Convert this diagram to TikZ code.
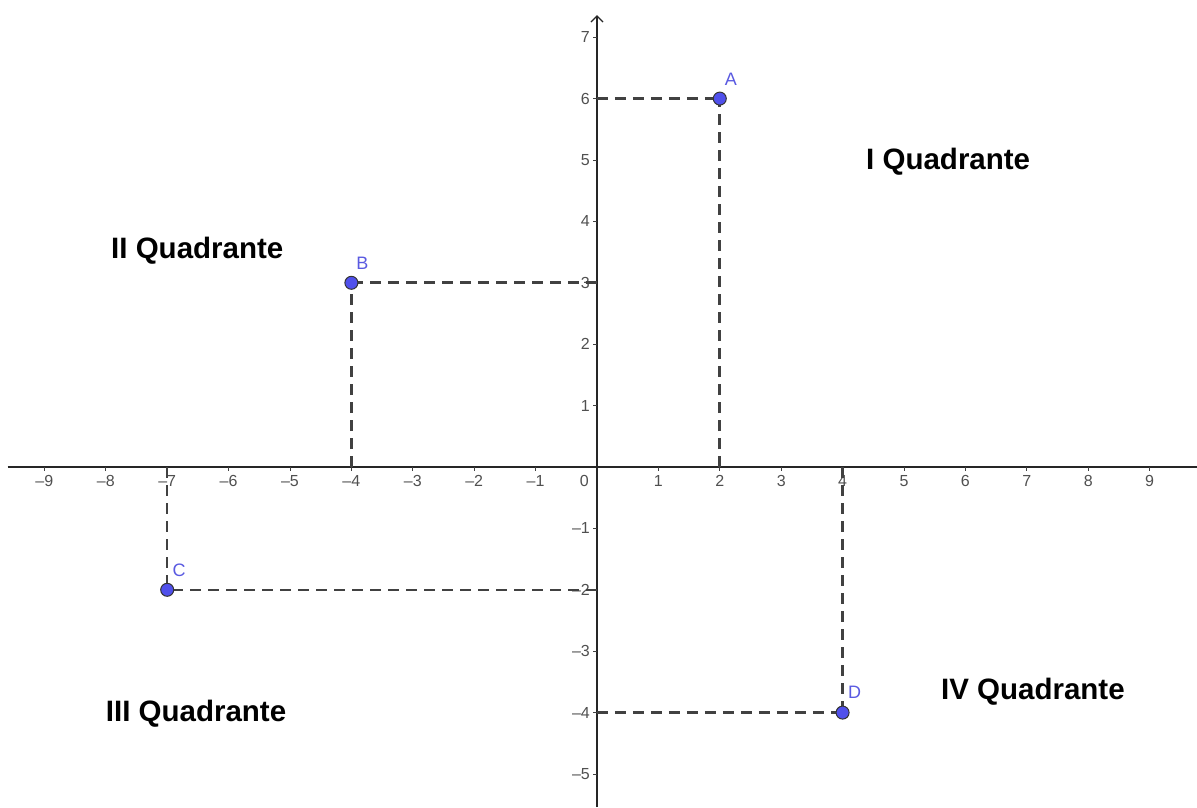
\documentclass[tikz,border=0pt]{standalone}
\usepackage{fontspec}
\setmainfont{Liberation Sans}
\usetikzlibrary{arrows.meta}
\definecolor{ticklbl}{RGB}{80,80,80}
\definecolor{ptfill}{RGB}{80,80,235}
\definecolor{ptlbl}{RGB}{90,90,225}
\definecolor{dashc}{RGB}{65,65,65}
\tikzset{
  axis/.style={line width=1.6pt, draw=black!85},
  tck/.style={line width=0.9pt, draw=black!75},
  ticklabel/.style={text=ticklbl, font=\fontsize{16}{16}\selectfont, inner sep=0pt},
  guide/.style={dashc, line width=2.6pt, dash pattern=on 11pt off 7pt},
  pt/.style={circle, fill=ptfill, draw=black!80, line width=1pt, minimum size=13pt, inner sep=0pt},
  ptlabel/.style={text=ptlbl, font=\fontsize{18}{18}\selectfont, inner sep=0pt},
  quad/.style={font=\bfseries\fontsize{29.5}{29.5}\selectfont, inner sep=0pt}
}
\begin{document}
\begin{tikzpicture}[x=61.4pt,y=61.4pt]
\useasboundingbox (-9.7231,-5.5375) rectangle (9.7720,7.6059);
\fill[white] (-9.7231,-5.5375) rectangle (9.7720,7.6059);
% axes
\coordinate (xl) at (-9.6,0);
\coordinate (xr) at (9.7720,0);
\coordinate (yb) at (0,-5.5375);
\coordinate (yt) at (0,7.36);
\draw[axis] (xl) -- (xr);
\draw[axis, -{Straight Barb[length=6pt,width=12pt,line width=1.3pt]}] (yb) -- (yt);
% x ticks
\foreach \i in {-9,...,-1,1,2,...,9} {
  \draw[tck] (\i,0) -- ++(0,-4pt);
  \node[ticklabel] at ([yshift=-14pt]\i,0) {\ifnum\i<0 \textendash\the\numexpr-\i\relax\else\i\fi};
}
\node[ticklabel, anchor=east] at ([xshift=-8pt,yshift=-14pt]0,0) {0};
% y ticks
\foreach \j in {-5,...,-1,1,2,...,7} {
  \draw[tck] (0,\j) -- ++(-4pt,0);
  \node[ticklabel, anchor=east] at ([xshift=-7pt]0,\j) {\ifnum\j<0 \textendash\the\numexpr-\j\relax\else\j\fi};
}
% foot coordinates
\coordinate (Ax) at (2,0); \coordinate (Ay) at (0,6);
\coordinate (Bx) at (-4,0); \coordinate (By) at (0,3);
\coordinate (Cx) at (-7,0); \coordinate (Cy) at (0,-2);
\coordinate (Dx) at (4,0); \coordinate (Dy) at (0,-4);
\coordinate (Ac) at (2,6); \coordinate (Bc) at (-4,3);
\coordinate (Cc) at (-7,-2); \coordinate (Dc) at (4,-4);
% guides
\draw[guide] (Ay) -- (Ac); \draw[guide] (Ax) -- (Ac);
\draw[guide] (By) -- (Bc); \draw[guide] (Bx) -- (Bc);
\draw[guide] (Cy) -- (Cc); \draw[guide] (Cx) -- (Cc);
\draw[guide] (Dy) -- (Dc); \draw[guide] (Dx) -- (Dc);
% points
\node[pt] (A) at (Ac) {};
\node[pt] (B) at (Bc) {};
\node[pt] (C) at (Cc) {};
\node[pt] (D) at (Dc) {};
\node[ptlabel] (lA) at ([xshift=11pt,yshift=19pt]Ac) {A};
\node[ptlabel] (lB) at ([xshift=11pt,yshift=19pt]Bc) {B};
\node[ptlabel] (lC) at ([xshift=12pt,yshift=19pt]Cc) {C};
\node[ptlabel] (lD) at ([xshift=12pt,yshift=20pt]Dc) {D};
% quadrant labels
\node[quad] (q1) at (5.72,4.97) {I Quadrante};
\node[quad] (q2) at (-6.51,3.53) {II Quadrante};
\node[quad] (q3) at (-6.53,-4.02) {III Quadrante};
\node[quad] (q4) at (7.10,-3.66) {IV Quadrante};
\end{tikzpicture}
\end{document}
